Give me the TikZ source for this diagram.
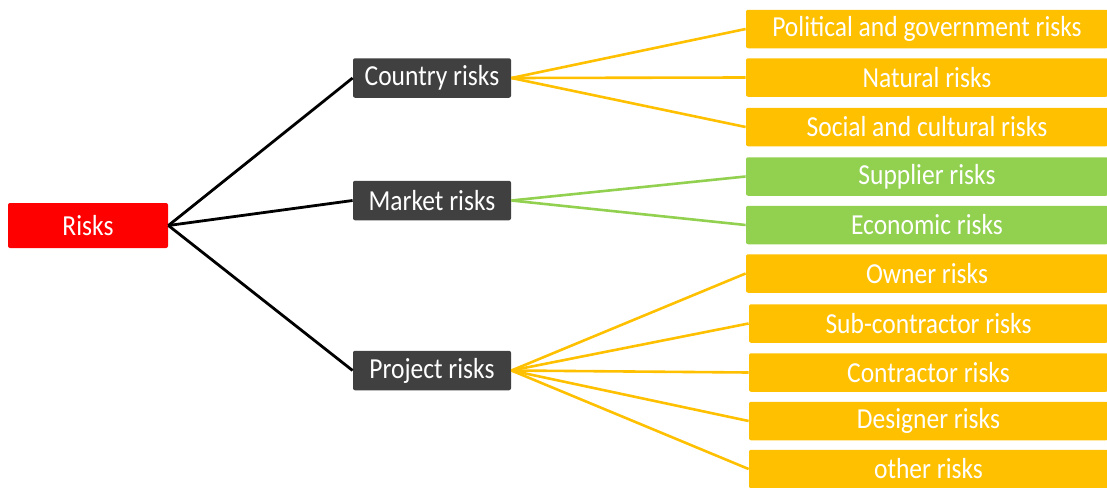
\documentclass[tikz,border=0pt]{standalone}
\usepackage{fontspec}
\setmainfont[FakeStretch=0.88]{Carlito}
\usepackage{tikz}

\definecolor{riskred}{HTML}{FF0000}
\definecolor{darkbox}{HTML}{404040}
\definecolor{riskorange}{HTML}{FFC000}
\definecolor{riskgreen}{HTML}{92D050}

\begin{document}
\begin{tikzpicture}[x=0.5pt,y=-0.5pt]

\tikzset{box/.style = {shape=rectangle,rounded corners=1pt,text=white,inner sep=0pt,font=\fontsize{14.5}{17}\selectfont}}
\tikzset{mainbox/.style = {box,fill=riskred,minimum width=80pt,minimum height=22.5pt}}
\tikzset{midbox/.style = {box,fill=darkbox,minimum width=79pt,minimum height=19.75pt}}
\tikzset{leafbox/.style = {box,minimum height=19.25pt}}
\tikzset{orangebox/.style = {leafbox,fill=riskorange}}
\tikzset{greenbox/.style = {leafbox,fill=riskgreen}}
\useasboundingbox (0,0) rectangle (1107,487);
%verticies
\node[mainbox] (risks) at (88,225.5) {Risks};
\node[midbox] (country) at (432,78) {Country risks};
\node[midbox] (market) at (432,200.5) {Market risks};
\node[midbox] (project) at (432,370.5) {Project risks};
%country leaves
\node[orangebox, minimum width=181pt] (political) at (927,29) {Political and government risks};
\node[orangebox, minimum width=181pt] (natural) at (927,77.5) {Natural risks};
\node[orangebox, minimum width=181pt] (social) at (927,127) {Social and cultural risks};
%market leaves
\node[greenbox, minimum width=181pt] (supplier) at (927,176.5) {Supplier risks};
\node[greenbox, minimum width=181pt] (economic) at (927,225) {Economic risks};
%project leaves
\node[orangebox, minimum width=181pt] (owner) at (927,273.5) {Owner risks};
\node[orangebox, minimum width=179.5pt] (subcontractor) at (928.5,323.5) {Sub-contractor risks};
\node[orangebox, minimum width=179.5pt] (contractor) at (928.5,372.5) {Contractor risks};
\node[orangebox, minimum width=179.5pt] (designer) at (928.5,421) {Designer risks};
\node[orangebox, minimum width=179.5pt] (other) at (928.5,469) {other risks};
%edges
\draw [line width=1.4pt] (risks.east) -- (country.west);
\draw [line width=1.4pt] (risks.east) -- (market.west);
\draw [line width=1.4pt] (risks.east) -- (project.west);
\draw [riskorange, line width=1.3pt] (country.east) -- (political.west);
\draw [riskorange, line width=1.3pt] (country.east) -- (natural.west);
\draw [riskorange, line width=1.3pt] (country.east) -- (social.west);
\draw [riskgreen, line width=1.3pt] (market.east) -- (supplier.west);
\draw [riskgreen, line width=1.3pt] (market.east) -- (economic.west);
\draw [riskorange, line width=1.3pt] (project.east) -- (owner.west);
\draw [riskorange, line width=1.3pt] (project.east) -- (subcontractor.west);
\draw [riskorange, line width=1.3pt] (project.east) -- (contractor.west);
\draw [riskorange, line width=1.3pt] (project.east) -- (designer.west);
\draw [riskorange, line width=1.3pt] (project.east) -- (other.west);

\end{tikzpicture}
\end{document}
